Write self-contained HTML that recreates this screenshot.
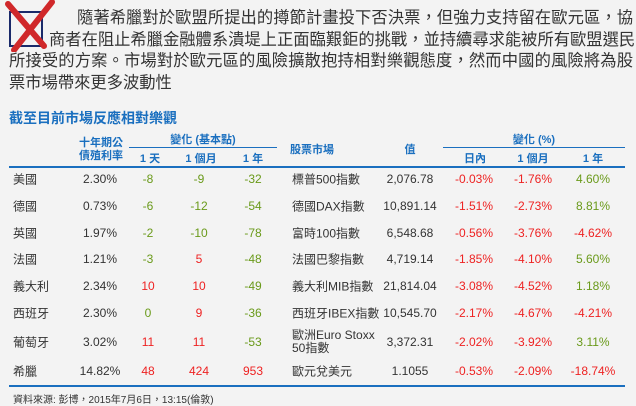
<!DOCTYPE html>
<html><head><meta charset="utf-8">
<style>
body{margin:0;width:636px;height:404px;background:#f3f3f3;font-family:"Liberation Sans","Noto Sans CJK TC",sans-serif;position:relative;overflow:hidden;color:#333}
.ab{position:absolute;white-space:nowrap}
.pl{position:absolute;font-size:16.3px;line-height:20px;color:#333;text-align:justify;text-align-last:justify;white-space:nowrap}
.h{position:absolute;color:#1a6fbf;font-size:11px;font-weight:bold;transform:translate(-50%,-50%);white-space:nowrap}
.c{position:absolute;font-size:12px;transform:translate(-50%,-50%);white-space:nowrap}
.l{position:absolute;font-size:12px;transform:translateY(-50%);white-space:nowrap;color:#333}
.g{color:#6a9a1a}.r{color:#ee2222}
.rule{position:absolute;background:#1a6fbf}
</style></head><body>
<svg class="ab" style="left:4px;top:0" width="52" height="52">
<rect x="6" y="12" width="32" height="34" fill="none" stroke="#1a2a6a" stroke-width="2"/>
<path d="M4 4 L40 46 M48 2 L10 50" stroke="#d0282a" stroke-width="6" stroke-linecap="round"/>
</svg>
<div>
<div class="pl" style="left:77px;top:8px;width:556px">隨著希臘對於歐盟所提出的撙節計畫投下否決票，但強力支持留在歐元區，協</div>
<div class="pl" style="left:49px;top:30px;width:584px">商者在阻止希臘金融體系潰堤上正面臨艱鉅的挑戰，並持續尋求能被所有歐盟選民</div>
<div class="pl" style="left:9px;top:51px;width:624px">所接受的方案。市場對於歐元區的風險擴散抱持相對樂觀態度，然而中國的風險將為股</div>
<div class="pl" style="left:9px;top:73px;text-align-last:left">票市場帶來更多波動性</div>
</div>
<div class="ab" style="left:9px;top:108px;font-size:14px;font-weight:bold;color:#1a6fbf">截至目前市場反應相對樂觀</div>

<div class="h" style="left:101px;top:142px">十年期公</div>
<div class="h" style="left:101px;top:155px">債殖利率</div>
<div class="h" style="left:203px;top:139px">變化 (基本點)</div>
<div class="rule" style="left:129px;top:147px;width:148px;height:1px"></div>
<div class="h" style="left:150px;top:158px">1 天</div>
<div class="h" style="left:201px;top:158px">1 個月</div>
<div class="h" style="left:253px;top:158px">1 年</div>
<div class="h" style="left:312px;top:149px">股票市場</div>
<div class="h" style="left:410px;top:149px">值</div>
<div class="h" style="left:534px;top:139px">變化 (%)</div>
<div class="rule" style="left:443px;top:147px;width:182px;height:1px"></div>
<div class="h" style="left:475px;top:158px">日內</div>
<div class="h" style="left:533px;top:158px">1 個月</div>
<div class="h" style="left:593px;top:158px">1 年</div>
<div class="rule" style="left:9px;top:166px;width:616px;height:2px"></div>
<div id="rows"></div>
<div class="rule" style="left:9px;top:385px;width:616px;height:2px"></div>
<div class="ab" style="left:13px;top:391px;font-size:10px;color:#333">資料來源: 彭博，2015年7月6日，13:15(倫敦)</div>
<script>
const countries=["美國","德國","英國","法國","義大利","西班牙","葡萄牙","希臘"];
const yields=["2.30%","0.73%","1.97%","1.21%","2.34%","2.30%","3.02%","14.82%"];
const bp1d=[-8,-6,-2,-3,10,0,11,48];
const bp1m=[-9,-12,-10,5,10,9,11,424];
const bp1y=[-32,-54,-78,-48,-49,-36,-53,953];
const markets=["標普500指數","德國DAX指數","富時100指數","法國巴黎指數","義大利MIB指數","西班牙IBEX指數","歐洲Euro Stoxx<br>50指數","歐元兌美元"];
const values=["2,076.78","10,891.14","6,548.68","4,719.14","21,814.04","10,545.70","3,372.31","1.1055"];
const pctDay=[-0.03,-1.51,-0.56,-1.85,-3.08,-2.17,-2.02,-0.53];
const pct1m=[-1.76,-2.73,-3.76,-4.10,-4.52,-4.67,-3.92,-2.09];
const pct1y=[4.60,8.81,-4.62,5.60,1.18,-4.21,3.11,-18.74];
const rowY=[179,206,233,259,286,313,342,371];
const R=document.getElementById('rows');
function add(cls,x,y,html,name){const d=document.createElement('div');d.className=cls;d.style.left=x+'px';d.style.top=y+'px';d.innerHTML=html;


R.appendChild(d);}
function bpCls(v){return v>0?'c r':'c g';}
function pCls(v){return v>0?'c g':'c r';}
countries.forEach((c,i)=>{const y=rowY[i];
add('l',13,y,c,'country-label');
add('c',100,y,yields[i],'yield-value');
add(bpCls(bp1d[i]),148,y,bp1d[i],'bp-1d-value');
add(bpCls(bp1m[i]),199,y,bp1m[i],'bp-1m-value');
add(bpCls(bp1y[i]),253,y,bp1y[i],'bp-1y-value');
add('l',292,y,markets[i],'market-label');
add('c',410,y,values[i],'index-value');
add(pCls(pctDay[i]),474,y,pctDay[i].toFixed(2)+'%','pct-day-value');
add(pCls(pct1m[i]),533,y,pct1m[i].toFixed(2)+'%','pct-1m-value');
add(pCls(pct1y[i]),593,y,pct1y[i].toFixed(2)+'%','pct-1y-value');
});
document.querySelectorAll('.l').forEach(e=>{if(e.innerHTML.includes('<br>'))e.style.lineHeight='13px';});
</script>
</body></html>
